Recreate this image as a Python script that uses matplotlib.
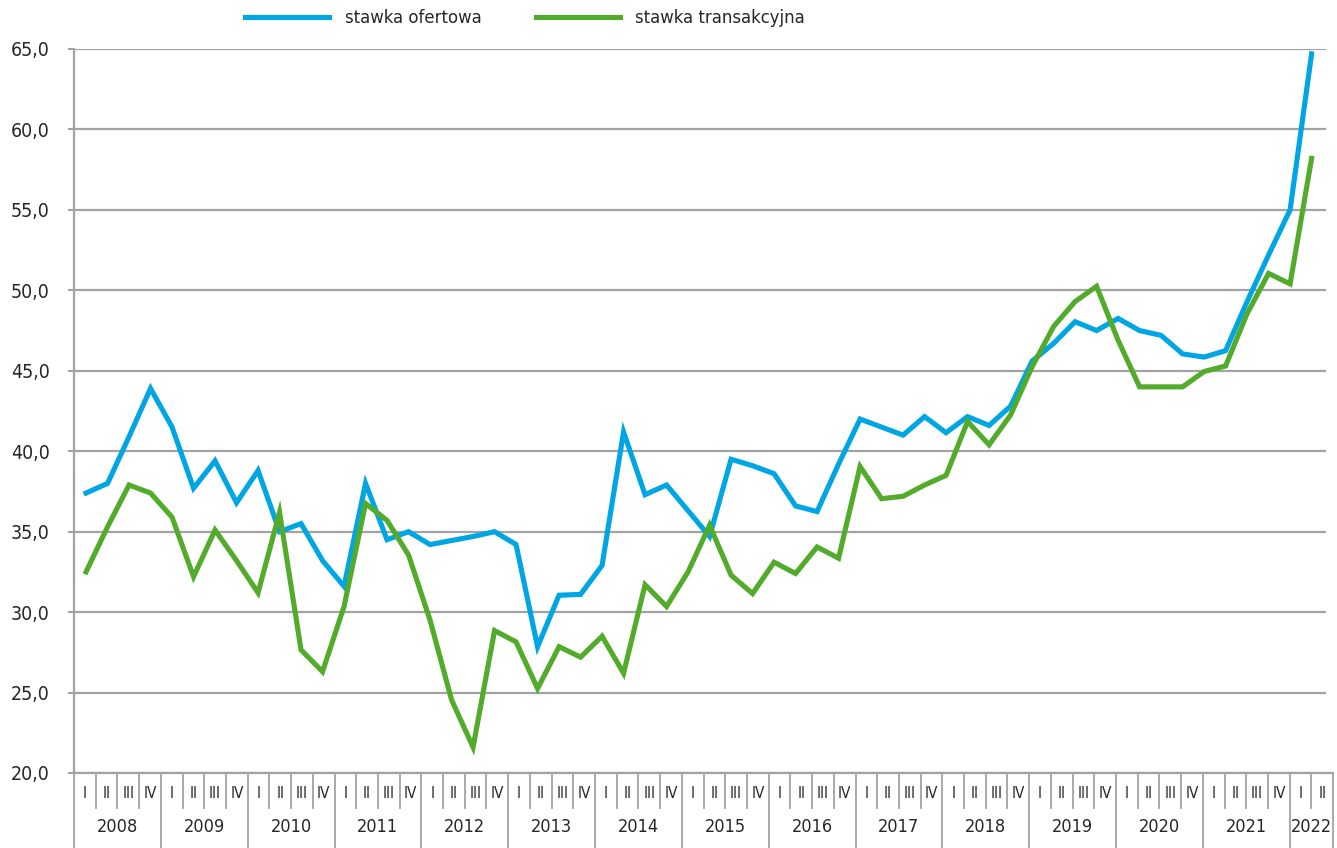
import matplotlib
matplotlib.use('Agg')
import matplotlib.pyplot as plt
import numpy as np

plt.rcParams['font.family'] = ['DejaVu Sans']
plt.rcParams['font.stretch'] = 'condensed'

years = ['2008', '2009', '2010', '2011', '2012', '2013', '2014', '2015',
         '2016', '2017', '2018', '2019', '2020', '2021', '2022']
quarters = ['I', 'II', 'III', 'IV']
n_last_year = 2   # 2022: I, II

stawka_ofertowa = [37.4, 38.0, 40.9, 43.9, 41.5, 37.7, 39.4, 36.8, 38.8, 35.0,
                   35.5, 33.2, 31.6, 38.0, 34.5, 35.0, 34.2, 34.45, 34.7, 35.0,
                   34.2, 27.85, 31.05, 31.1, 32.9, 41.2, 37.3, 37.9, 36.3, 34.7,
                   39.5, 39.1, 38.6, 36.6, 36.25, 39.2, 42.0, 41.5, 41.0, 42.15,
                   41.15, 42.15, 41.6, 42.8, 45.6, 46.7, 48.05, 47.5, 48.25, 47.5,
                   47.2, 46.05, 45.85, 46.25, 49.3, 52.2, 55.0, 64.7]
stawka_transakcyjna = [32.5, 35.3, 37.9, 37.4, 35.9, 32.2, 35.1, 33.2, 31.2, 36.2,
                       27.65, 26.3, 30.35, 36.75, 35.7, 33.55, 29.5, 24.55, 21.6, 28.85,
                       28.15, 25.25, 27.85, 27.2, 28.5, 26.2, 31.7, 30.35, 32.5, 35.4,
                       32.3, 31.15, 33.1, 32.4, 34.05, 33.35, 39.05, 37.05, 37.2, 37.9,
                       38.5, 41.85, 40.4, 42.25, 45.25, 47.75, 49.3, 50.25, 46.9, 44.0,
                       44.0, 44.0, 44.95, 45.3, 48.55, 51.05, 50.4, 58.2]

blue = '#00A6E4'
green = '#52AB2B'
grid_c = '#A3A3A3'
text_c = '#262626'

fig = plt.figure(figsize=(13.37, 8.48), dpi=100)
ax = fig.add_axes([74 / 1337, 75 / 848, 1252 / 1337, 724 / 848])

x = np.arange(len(stawka_ofertowa))
ax.plot(x, stawka_ofertowa, color=blue, lw=3.7, label='stawka ofertowa',
        solid_joinstyle='miter', zorder=3)
ax.plot(x, stawka_transakcyjna, color=green, lw=3.7, label='stawka transakcyjna',
        solid_joinstyle='miter', zorder=3)

ax.set_ylim(20, 65)
ax.set_xlim(-0.56, 57.67)
ax.set_yticks(np.arange(20, 66, 5))
ax.set_yticklabels([('%.1f' % v).replace('.', ',') for v in np.arange(20, 66, 5)],
                   fontsize=14, color=text_c)
ax.tick_params(axis='y', length=4.5, width=1.5, color=grid_c, pad=13)
ax.tick_params(axis='x', bottom=False, labelbottom=False)
ax.grid(axis='y', color=grid_c, lw=1.6)
ax.set_axisbelow(True)
for s in ['top', 'right', 'bottom']:
    ax.spines[s].set_visible(False)
ax.spines['left'].set_color(grid_c)
ax.spines['left'].set_linewidth(1.6)

# category axis: quarters and years in boxes
n_q = len(years) * 4 - (4 - n_last_year)
edges = np.linspace(-0.56, 58.0, n_q + 1)
tr = ax.get_xaxis_transform()
ax.plot([edges[0], edges[-1]], [0, 0], color=grid_c, lw=1.6, transform=tr, clip_on=False)
for k, e in enumerate(edges):
    if k % 4 == 0 or k == n_q:
        ax.plot([e, e], [0, -0.105], color=grid_c, lw=1.3, transform=tr, clip_on=False)
    else:
        ax.plot([e, e], [0, -0.048], color=grid_c, lw=1.3, transform=tr, clip_on=False)
for k in range(n_q):
    ax.text((edges[k] + edges[k + 1]) / 2, -0.028, quarters[k % 4], transform=tr,
            ha='center', va='center', fontsize=11, color=text_c)
for j, yr in enumerate(years):
    a = edges[4 * j]
    b = edges[min(4 * j + 4, n_q)]
    ax.text((a + b) / 2, -0.075, yr, transform=tr, ha='center', va='center',
            fontsize=13, color=text_c)

fig.legend(loc='center', bbox_to_anchor=(525 / 1337, 1 - 18 / 848), ncol=2,
           frameon=False, fontsize=13.2, handlelength=4.6, handletextpad=0.85,
           columnspacing=2.95, labelcolor=text_c)

fig.savefig('out.png', dpi=100)
